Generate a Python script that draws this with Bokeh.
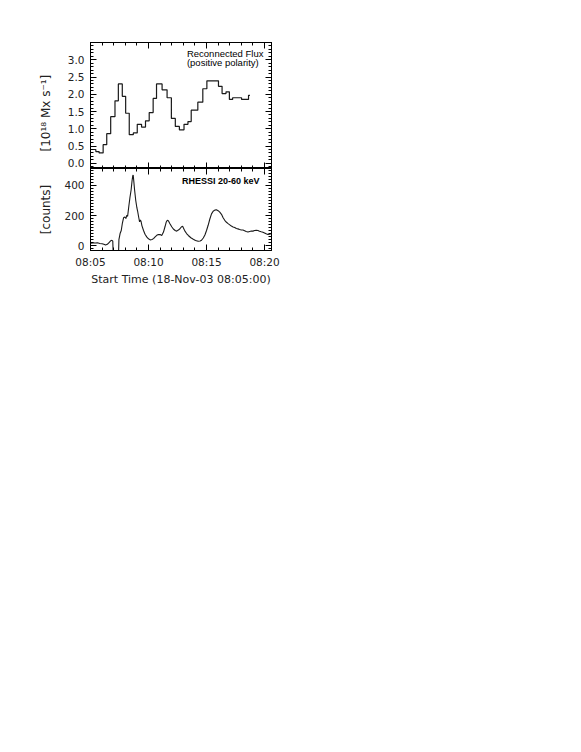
from bokeh.plotting import figure
from bokeh.layouts import column
from bokeh.models import FixedTicker, LinearAxis, Label, Range1d
from bokeh.embed import file_html
from bokeh.resources import INLINE

# ---------------- data (minutes after 08:05:00) ----------------
flux_edges = [0.00, 0.46, 0.74, 1.09, 1.40, 1.74, 2.11, 2.40, 2.74, 3.03, 3.34,
              3.69, 4.03, 4.40, 4.74, 5.06, 5.40, 5.69, 6.17, 6.60, 6.97, 7.31,
              7.66, 8.06, 8.40, 8.68, 9.03, 9.25, 9.68, 10.03, 11.03, 11.34,
              11.68, 11.97, 12.25, 13.02, 13.62, 13.74]
flux_values = [0.40, 0.34, 0.30, 0.54, 0.86, 1.35, 1.81, 2.30, 1.94, 1.45,
               0.83, 0.88, 1.13, 1.05, 1.23, 1.47, 1.88, 2.30, 2.13, 1.90,
               1.30, 1.07, 0.97, 1.13, 1.21, 1.54, 1.54, 1.77, 2.16, 2.39,
               2.23, 2.02, 2.07, 1.85, 1.90, 1.85, 1.97]

hxr_time = [0.00, 0.20, 0.40, 0.60, 0.80, 1.00, 1.15, 1.30, 1.45, 1.60, 1.75,
            1.85, 1.92, 1.95, 2.20, 2.42, 2.45, 2.55, 2.65, 2.75, 2.85, 2.95,
            3.05, 3.12, 3.20, 3.30, 3.40, 3.50, 3.58, 3.64, 3.68, 3.73, 3.80,
            3.90, 4.00, 4.06, 4.15, 4.23, 4.30, 4.36, 4.43, 4.57, 4.70, 4.86,
            5.00, 5.14, 5.30, 5.43, 5.57, 5.71, 5.85, 6.00, 6.14, 6.29, 6.42,
            6.52, 6.62, 6.71, 6.86, 7.00, 7.14, 7.30, 7.43, 7.57, 7.71, 7.85,
            7.94, 8.04, 8.14, 8.28, 8.43, 8.65, 8.86, 9.05, 9.28, 9.45, 9.57,
            9.72, 9.86, 10.00, 10.14, 10.28, 10.43, 10.57, 10.71, 10.85, 11.00,
            11.14, 11.29, 11.43, 11.57, 11.72, 11.86, 12.00, 12.14, 12.29,
            12.43, 12.57, 12.71, 12.85, 13.00, 13.14, 13.28, 13.42, 13.57,
            13.72, 13.86, 14.00, 14.14, 14.29, 14.43, 14.57, 14.71, 14.86,
            15.00, 15.14, 15.29, 15.43, 15.57]
hxr_counts = [15, 18, 17, 18, 14, 12, 8, 3, 8, 20, 32,
              35, 30, -45, -45, -45, 40, 80, 100, 150, 185, 190,
              180, 200, 195, 260, 320, 370, 430, 465, 470, 430, 370,
              300, 250, 230, 190, 158, 170, 160, 133, 100, 75, 56,
              45, 38, 40, 46, 58, 68, 74, 73, 67, 90, 125,
              155, 168, 165, 144, 125, 110, 100, 96, 103, 112, 125,
              128, 112, 96, 80, 67, 52, 42, 34, 29, 30, 35,
              50, 70, 100, 135, 175, 211, 228, 236, 238, 232,
              222, 208, 185, 168, 155, 146, 138, 130, 124,
              120, 114, 111, 107, 104, 103, 98, 93, 90,
              94, 97, 96, 100, 102, 100, 95, 92, 89,
              84, 78, 73, 76, 78]

x_tick_vals = [0, 5, 10, 15]
x_tick_labels = ["08:05", "08:10", "08:15", "08:20"]
x_minor_vals = [0, 1, 2, 3, 4, 5, 6, 7, 8, 9, 10, 11, 12, 13, 14, 15]
flux_ticks = [0.0, 0.5, 1.0, 1.5, 2.0, 2.5, 3.0]
flux_tick_labels = ["0.0", "0.5", "1.0", "1.5", "2.0", "2.5", "3.0"]
flux_minor = [round(-0.1 + 0.1 * i, 2) for i in range(37)]
count_ticks = [0, 200, 400]
count_tick_labels = ["0", "200", "400"]
count_minor = [-20 + 20 * i for i in range(27)]

TICK_FONT = "DejaVu Sans"
TXT_COLOR = "#222222"
MAJ, MIN = 6, 3

xr = Range1d(0, 15.6)


def style(ax):
    ax.major_tick_in = MAJ
    ax.major_tick_out = 0
    ax.minor_tick_in = MIN
    ax.minor_tick_out = 0
    ax.axis_line_color = "black"
    ax.major_tick_line_color = "black"
    ax.minor_tick_line_color = "black"
    ax.major_label_text_font = TICK_FONT
    ax.major_label_text_color = TXT_COLOR
    ax.major_label_text_font_size = "10.5px"
    ax.axis_label_text_font = TICK_FONT
    ax.axis_label_text_font_style = "normal"
    ax.axis_label_text_color = TXT_COLOR
    ax.axis_label_text_font_size = "12px"


def mirror(p, loc, major_vals, minor_vals):
    # label-free axes: only (minor-type) ticks, so they take no room
    for vals, length in [(minor_vals, MIN), (major_vals, MAJ)]:
        ax = LinearAxis(ticker=FixedTicker(ticks=[], minor_ticks=vals))
        ax.major_tick_in = 0
        ax.major_tick_out = 0
        ax.minor_tick_in = length
        ax.minor_tick_out = 0
        ax.major_label_standoff = 0
        ax.axis_label_standoff = 0
        ax.major_label_text_color = None
        ax.axis_line_color = "black"
        ax.minor_tick_line_color = "black"
        p.add_layout(ax, loc)


def base(height, border_top, border_bottom, y_range):
    p = figure(width=281, height=height, x_range=xr, y_range=y_range,
               output_backend="svg", toolbar_location=None,
               min_border_left=90, min_border_right=10,
               min_border_top=border_top, min_border_bottom=border_bottom,
               x_axis_location=None, y_axis_location=None)
    p.grid.visible = False
    p.outline_line_color = "black"
    p.outline_line_width = 1
    p.background_fill_color = "white"
    p.border_fill_color = "white"
    return p


# ---------------- top panel ----------------
p1 = base(42 + 126, 42, 0, Range1d(-0.15, 3.5))
mirror(p1, "below", x_tick_vals, x_minor_vals)
mirror(p1, "above", x_tick_vals, x_minor_vals)
mirror(p1, "right", flux_ticks, flux_minor)
ax = LinearAxis(ticker=FixedTicker(ticks=flux_ticks, minor_ticks=flux_minor),
                axis_label="[10¹⁸   Mx   s⁻¹]",
                major_label_overrides=dict(zip(flux_ticks, flux_tick_labels)))
style(ax)
ax.major_label_standoff = 6
ax.axis_label_standoff = 12
p1.add_layout(ax, "left")

fx = flux_edges
fy = flux_values + [flux_values[-1]]
p1.step(x=fx, y=fy, mode="after", line_color="#1a1a1a", line_width=1.2)

p1.add_layout(Label(x=8.31, y=3.18, text="Reconnected Flux",
                    text_font="Liberation Sans", text_font_size="9.5px",
                    text_color="#000000", text_baseline="middle", text_align="left"))
p1.add_layout(Label(x=8.31, y=2.93, text="(positive polarity)",
                    text_font="Liberation Sans", text_font_size="9.5px",
                    text_color="#000000", text_baseline="middle", text_align="left"))

# ---------------- bottom panel ----------------
p2 = base(82 + 40, 0, 40, Range1d(-33, 513))
mirror(p2, "above", x_tick_vals, x_minor_vals)
mirror(p2, "right", count_ticks, count_minor)
ax = LinearAxis(ticker=FixedTicker(ticks=x_tick_vals, minor_ticks=x_minor_vals),
                axis_label="Start Time (18-Nov-03 08:05:00)",
                major_label_overrides=dict(zip(x_tick_vals, x_tick_labels)))
style(ax)
ax.axis_label_text_font_size = "11px"
ax.major_label_standoff = 5
ax.axis_label_standoff = 2
p2.add_layout(ax, "below")
ax = LinearAxis(ticker=FixedTicker(ticks=count_ticks, minor_ticks=count_minor),
                axis_label="[counts]",
                major_label_overrides=dict(zip(count_ticks, count_tick_labels)))
style(ax)
ax.major_label_standoff = 6
ax.axis_label_standoff = 8
p2.add_layout(ax, "left")

p2.line(x=hxr_time, y=hxr_counts, line_color="#1a1a1a", line_width=1.1)
p2.add_layout(Label(x=7.88, y=427, text="RHESSI 20-60 keV",
                    text_font="Liberation Sans", text_font_size="9px",
                    text_font_style="bold",
                    text_color="#000000", text_baseline="middle", text_align="left"))

layout = column(p1, p2, spacing=0)
open("out.html", "w").write(file_html(layout, INLINE))
